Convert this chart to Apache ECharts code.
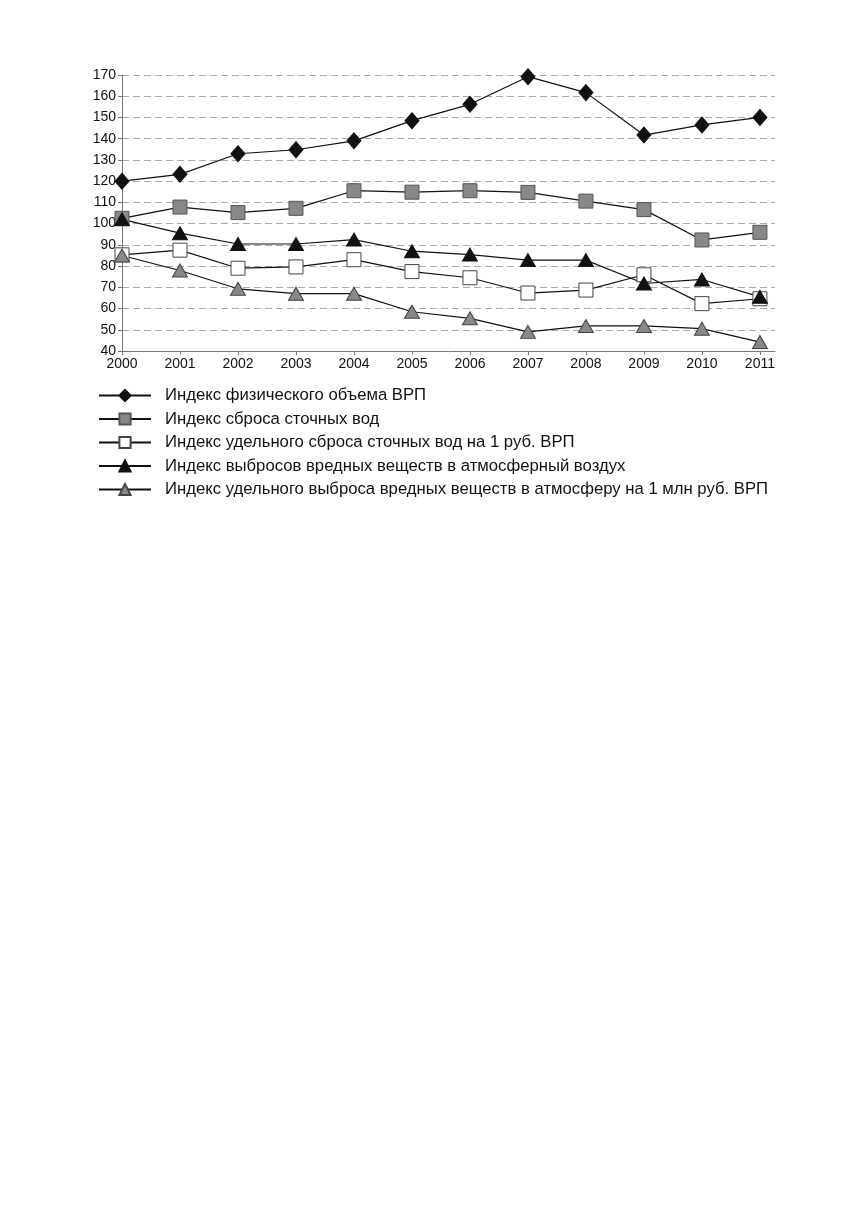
<!DOCTYPE html>
<html lang="ru">
  <head>
    <meta charset="UTF-8" />
    <title>Индексы</title>
    <style>
      html, body { margin: 0; background: #fff; }
      #container { width: 856px; height: 1229px; }
    </style>
    <script src="https://cdn.jsdelivr.net/npm/echarts@6/dist/echarts.min.js"></script>
  </head>
  <body>
    <div id="container"></div>
    <script>
      const years = [2000, 2001, 2002, 2003, 2004, 2005, 2006, 2007, 2008, 2009, 2010, 2011]

      const names = [
        'Индекс физического объема ВРП',
        'Индекс сброса сточных вод',
        'Индекс удельного сброса сточных вод на 1 руб. ВРП',
        'Индекс выбросов вредных веществ в атмосферный воздух',
        'Индекс удельного выброса вредных веществ в атмосферу на 1 млн руб. ВРП',
      ]

      const grp = [120, 123.2, 132.9, 134.8, 139, 148.5, 156.2, 169.2, 161.7, 141.7, 146.5, 150]
      const waterDischarge = [102.5, 107.8, 105.2, 107.2, 115.5, 114.8, 115.5, 114.7, 110.6, 106.6, 92.3, 95.9]
      const waterPerRub = [85.3, 87.5, 79, 79.6, 83, 77.4, 74.5, 67.3, 68.7, 75.9, 62.3, 64.6]
      const airEmissions = [102, 95.5, 90.4, 90.4, 92.5, 87, 85.4, 82.8, 82.8, 71.8, 73.7, 65.5]
      const airPerMln = [85, 77.9, 69.3, 67, 67, 58.5, 55.4, 49, 51.8, 51.8, 50.5, 44.2]

      const yTicks = { min: 40, max: 170, step: 10 }

      const font = 'Liberation Sans'
      const chart = echarts.init(document.getElementById('container'))

      function pairs(vals) {
        return vals.map((v, i) => [years[i], v])
      }

      function line(name, vals, symbol, size, fill, border) {
        return {
          name: name,
          type: 'line',
          data: pairs(vals),
          symbol: symbol,
          symbolSize: size,
          showAllSymbol: true,
          lineStyle: { color: '#111', width: 1.2 },
          itemStyle: { color: fill, borderColor: border, borderWidth: 1 },
          emphasis: { disabled: true },
          animation: false,
        }
      }

      chart.setOption({
        animation: false,
        grid: { left: 122, top: 75, width: 653, height: 276, containLabel: false },
        xAxis: {
          type: 'value',
          min: 2000,
          max: 2011.26,
          interval: 1,
          axisLine: { lineStyle: { color: '#777', width: 1 } },
          axisTick: { show: true, length: 4, lineStyle: { color: '#777' } },
          splitLine: { show: false },
          axisLabel: {
            color: '#111',
            fontFamily: font,
            fontSize: 14,
            margin: 6,
            showMaxLabel: false,
            formatter: (v) => (Number.isInteger(v) ? String(v) : ''),
          },
        },
        yAxis: {
          type: 'value',
          min: yTicks.min,
          max: yTicks.max,
          interval: yTicks.step,
          axisLine: { show: true, lineStyle: { color: '#777', width: 1 } },
          axisTick: { show: true, length: 4, lineStyle: { color: '#777' } },
          splitLine: { lineStyle: { color: '#aaa', type: [7, 4], width: 1 } },
          axisLabel: { color: '#111', fontFamily: font, fontSize: 14, margin: 6 },
        },
        legend: {
          orient: 'vertical',
          left: 98,
          top: 387,
          padding: 0,
          itemWidth: 52,
          itemHeight: 14,
          itemGap: 6.5,
          textStyle: {
            fontFamily: font,
            fontSize: 16.7,
            lineHeight: 14,
            color: '#111',
            padding: [0, 0, 0, 9],
          },
          selectedMode: false,
          data: names,
        },
        series: [
          line(names[0], grp, 'diamond', [14, 16], '#111', '#111'),
          line(names[1], waterDischarge, 'rect', 14, '#888', '#555'),
          line(names[2], waterPerRub, 'rect', 14, '#fff', '#444'),
          line(names[3], airEmissions, 'triangle', [15, 13], '#111', '#111'),
          line(names[4], airPerMln, 'triangle', [15, 13], '#888', '#444'),
        ],
      })
    </script>
  </body>
</html>
